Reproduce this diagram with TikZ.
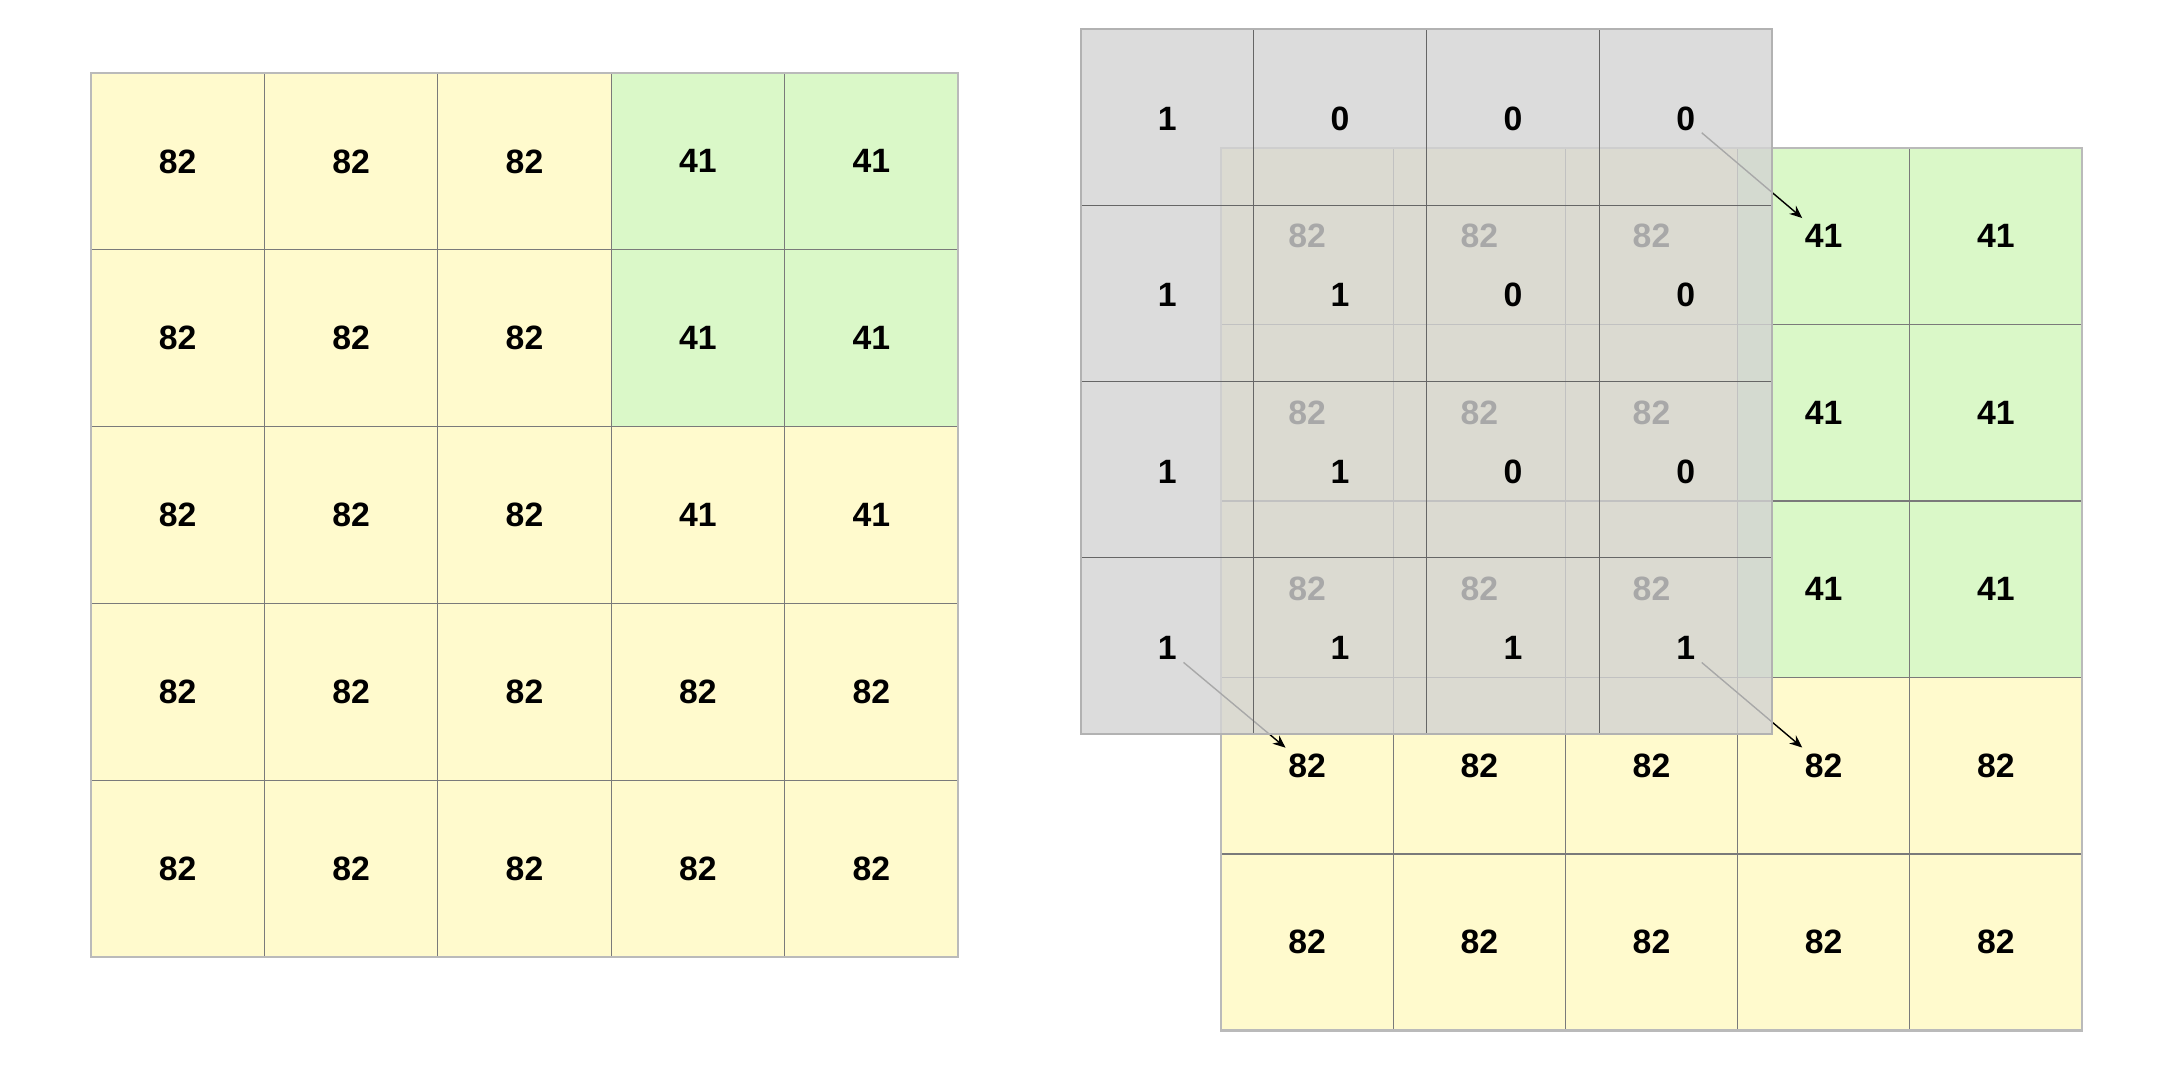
\documentclass[tikz,border=0pt]{standalone}
\usepackage{fontspec}
\setmainfont{Liberation Sans}
\usetikzlibrary{arrows.meta}
\definecolor{cellyellow}{HTML}{FFFACD}
\definecolor{cellgreen}{HTML}{DAF8C8}
\definecolor{kernelgray}{HTML}{D3D3D3}
\tikzset{
	num/.style={font=\fontsize{9.6}{11}\selectfont\bfseries, inner sep=0pt},
	inner line/.style={draw=black!52, line width=0.3pt},
	outer line/.style={draw=black!27, line width=0.6pt},
	link/.style={-{Stealth[length=3.6pt,width=3pt]}, line width=0.4pt, shorten <=6pt, shorten >=8pt},
}
\begin{document}
\begin{tikzpicture}[x=0.01cm,y=-0.01cm]
	\useasboundingbox (0,0) rectangle (2184,1068);
	% left input grid
	\fill[cellyellow] (91,73) rectangle (958,957);
	\fill[cellgreen] (611.2,73) rectangle (958,426.6);
	\foreach \c in {1,...,4} \draw[inner line] ({91+173.4*\c},73) -- ({91+173.4*\c},957);
	\foreach \r in {1,...,4} \draw[inner line] (91,{73+176.8*\r}) -- (958,{73+176.8*\r});
	\draw[outer line] (91,73) rectangle (958,957);
	\foreach \r/\vals in {0/{82,82,82,41,41},1/{82,82,82,41,41},2/{82,82,82,41,41},3/{82,82,82,82,82},4/{82,82,82,82,82}}
		\foreach \v [count=\c from 0] in \vals
			\node[num] (L-\r-\c) at ({91+173.4*(\c+0.5)},{73+176.8*(\r+0.5)}) {\v};
	% right grid, under the kernel
	\fill[cellyellow] (1221,148) rectangle (2082,1030.5);
	\fill[cellgreen] (1737.6,148) rectangle (2082,677.5);
	\foreach \c in {1,...,4} \draw[inner line] ({1221+172.2*\c},148) -- ({1221+172.2*\c},1030.5);
	\foreach \r in {1,...,4} \draw[inner line] (1221,{148+176.5*\r}) -- (2082,{148+176.5*\r});
	\draw[outer line] (1221,148) rectangle (2082,1030.5);
	\foreach \r/\vals in {0/{82,82,82,41,41},1/{82,82,82,41,41},2/{82,82,82,41,41},3/{82,82,82,82,82},4/{82,82,82,82,82}}
		\foreach \v [count=\c from 0] in \vals
			\node[num] (R-\r-\c) at ({1221+172.2*(\c+0.5)},{148+176.5*(\r+0.5)}) {\v};
	% kernel
	\coordinate (K-0-3) at ({1081+172.75*3.5},{29+176.25*0.5+2});
	\coordinate (K-3-0) at ({1081+172.75*0.5},{29+176.25*3.5+3});
	\coordinate (K-3-3) at ({1081+172.75*3.5},{29+176.25*3.5+3});
	\draw[link] (K-0-3) -- (R-0-3.center);
	\draw[link] (K-3-0) -- (R-3-0.center);
	\draw[link] (K-3-3) -- (R-3-3.center);
	\fill[kernelgray, fill opacity=0.8] (1081,29) rectangle (1772,734);
	\foreach \c in {1,...,3} \draw[inner line, draw=black!60] ({1081+172.75*\c},29) -- ({1081+172.75*\c},734);
	\foreach \r in {1,...,3} \draw[inner line, draw=black!60] (1081,{29+176.25*\r}) -- (1772,{29+176.25*\r});
	\draw[outer line, draw=black!30] (1081,29) rectangle (1772,734);
	\foreach \r/\vals in {0/{1,0,0,0},1/{1,1,0,0},2/{1,1,0,0},3/{1,1,1,1}}
		\foreach \v [count=\c from 0] in \vals
			\node[num] at ({1081+172.75*(\c+0.5)},{29+176.25*(\r+0.5)+2}) {\v};
\end{tikzpicture}
\end{document}
